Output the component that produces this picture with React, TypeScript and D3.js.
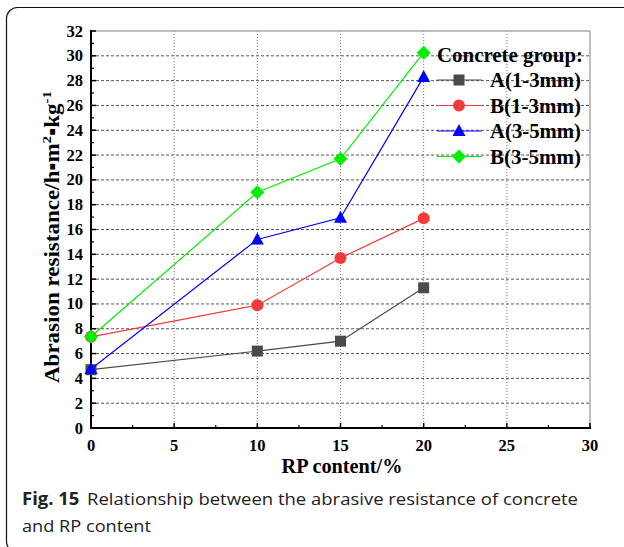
import React from "react";
import * as d3 from "d3";

const xValues = [0, 10, 15, 20];
const seriesNames = ["A(1-3mm)", "B(1-3mm)", "A(3-5mm)", "B(3-5mm)"];
const seriesA13 = [4.7, 6.2, 7.0, 11.3];
const seriesB13 = [7.35, 9.9, 13.7, 16.9];
const seriesA35 = [4.75, 15.2, 16.95, 28.3];
const seriesB35 = [7.35, 19.0, 21.7, 30.25];
const xTicks = [0, 5, 10, 15, 20, 25, 30];
const yTicks = [0, 2, 4, 6, 8, 10, 12, 14, 16, 18, 20, 22, 24, 26, 28, 30, 32];
const colors = ["#4a4a4a", "#f23c3c", "#0000ff", "#00ee00"];
const markers = ["square", "circle", "triangle", "diamond"];

const W = 624;
const H = 547;
const left = 91;
const right = 590;
const top = 31;
const bottom = 428;

const serif = "'Liberation Serif', 'Times New Roman', serif";
const sans = "'Open Sans', 'Noto Sans', sans-serif";

function Marker({ type, x, y, color }: { type: string; x: number; y: number; color: string }) {
  if (type === "square") return <rect x={x - 5.5} y={y - 5.5} width={11} height={11} fill={color} />;
  if (type === "circle") return <circle cx={x} cy={y} r={6} fill={color} />;
  if (type === "triangle")
    return <path d={`M${x},${y - 7} L${x + 6.5},${y + 5} L${x - 6.5},${y + 5} Z`} fill={color} />;
  return <path d={`M${x},${y - 7} L${x + 7},${y} L${x},${y + 7} L${x - 7},${y} Z`} fill={color} />;
}

export default function App() {
  const x = d3.scaleLinear().domain([0, 30]).range([left, right]);
  const y = d3.scaleLinear().domain([0, 32]).range([bottom, top]);
  const series = [seriesA13, seriesB13, seriesA35, seriesB35];
  const line = d3
    .line<[number, number]>()
    .x((d) => x(d[0]))
    .y((d) => y(d[1]));

  const yMinor = d3.range(1, 32, 2);
  const xMinor = d3.range(2.5, 30, 5);

  const legX = 437;
  const legY0 = 80;
  const legStep = 25.5;

  return (
    <svg
      width={W}
      height={H}
      style={{ position: "absolute", left: 0, top: 0, background: "#fff" }}
    >
      <rect x={0} y={0} width={W} height={H} fill="#fff" />
      <rect x={6.5} y={7.5} width={700} height={545} rx={11} fill="none" stroke="#111" strokeWidth={1.2} />

      {/* horizontal grid */}
      {yTicks
        .filter((t) => t > 0 && t < 32)
        .map((t) => (
          <line
            key={"hg" + t}
            x1={left}
            x2={right}
            y1={y(t)}
            y2={y(t)}
            stroke="#555"
            strokeWidth={1}
            strokeDasharray="3,2"
          />
        ))}
      {/* vertical grid */}
      {xTicks
        .filter((t) => t > 0 && t < 30)
        .map((t) => (
          <line
            key={"vg" + t}
            x1={x(t)}
            x2={x(t)}
            y1={top}
            y2={bottom}
            stroke="#777"
            strokeWidth={1}
            strokeDasharray="1,2"
          />
        ))}

      {/* frame */}
      <line x1={left} x2={right} y1={top} y2={top} stroke="#aaa" strokeWidth={1.5} />
      <line x1={right} x2={right} y1={top} y2={bottom} stroke="#aaa" strokeWidth={1.5} />

      {/* y ticks */}
      {yTicks.map((t) => (
        <line key={"yt" + t} x1={left} x2={left + 5} y1={y(t)} y2={y(t)} stroke="#000" strokeWidth={1.5} />
      ))}
      {yMinor.map((t) => (
        <line key={"ym" + t} x1={left} x2={left + 3} y1={y(t)} y2={y(t)} stroke="#000" strokeWidth={1.2} />
      ))}
      {/* x ticks */}
      {xTicks.map((t) => (
        <line key={"xt" + t} x1={x(t)} x2={x(t)} y1={bottom} y2={bottom - 5} stroke="#000" strokeWidth={1.5} />
      ))}
      {xMinor.map((t) => (
        <line key={"xm" + t} x1={x(t)} x2={x(t)} y1={bottom} y2={bottom - 3} stroke="#000" strokeWidth={1.2} />
      ))}

      {/* axes */}
      <line x1={left} x2={left} y1={top - 1} y2={bottom + 1} stroke="#000" strokeWidth={2} />
      <line x1={left - 1} x2={right + 1} y1={bottom} y2={bottom} stroke="#000" strokeWidth={2} />

      {/* tick labels */}
      {yTicks.map((t) => (
        <text
          key={"yl" + t}
          x={left - 8}
          y={y(t) + 5.5}
          textAnchor="end"
          fontFamily={serif}
          fontWeight="bold"
          fontSize={16.5}
        >
          {t}
        </text>
      ))}
      {xTicks.map((t) => (
        <text
          key={"xl" + t}
          x={x(t)}
          y={bottom + 23}
          textAnchor="middle"
          fontFamily={serif}
          fontWeight="bold"
          fontSize={16.5}
        >
          {t}
        </text>
      ))}

      {/* axis titles */}
      <text
        x={342}
        y={473}
        textAnchor="middle"
        fontFamily={serif}
        fontWeight="bold"
        fontSize={20}
        textLength={121}
        lengthAdjust="spacingAndGlyphs"
      >
        RP content/%
      </text>
      <text
        transform={`translate(59, 237) rotate(-90)`}
        textAnchor="middle"
        fontFamily={serif}
        fontWeight="bold"
        fontSize={20}
        textLength={292}
        lengthAdjust="spacingAndGlyphs"
      >
        Abrasion resistance/h▪m
        <tspan dy={-8} fontSize={13}>2</tspan>
        <tspan dy={8}>▪kg</tspan>
        <tspan dy={-8} fontSize={13}>-1</tspan>
      </text>

      {/* series */}
      {series.map((vals, i) => {
        const pts: [number, number][] = xValues.map((xv, j) => [xv, vals[j]]);
        return (
          <g key={"s" + i}>
            <path d={line(pts) || ""} fill="none" stroke={colors[i]} strokeWidth={1.2} />
            {pts.map((p, j) => (
              <Marker key={j} type={markers[i]} x={x(p[0])} y={y(p[1])} color={colors[i]} />
            ))}
          </g>
        );
      })}

      {/* legend */}
      <text
        x={legX}
        y={legY0 - legStep + 7}
        fontFamily={serif}
        fontWeight="bold"
        fontSize={20.5}
        textLength={146}
        lengthAdjust="spacingAndGlyphs"
      >
        Concrete group:
      </text>
      {seriesNames.map((name, i) => {
        const ly = legY0 + i * legStep;
        return (
          <g key={"lg" + i}>
            <line x1={legX} x2={legX + 45} y1={ly} y2={ly} stroke={colors[i]} strokeWidth={1.2} />
            <Marker type={markers[i]} x={legX + 22} y={ly} color={colors[i]} />
            <text
              x={legX + 53}
              y={ly + 7}
              fontFamily={serif}
              fontWeight="bold"
              fontSize={20.5}
              textLength={91}
              lengthAdjust="spacingAndGlyphs"
            >
              {name}
            </text>
          </g>
        );
      })}

      {/* caption */}
      <text
        x={22}
        y={505}
        fontFamily={sans}
        fontSize={17}
        fill="#222"
        textLength={556}
        lengthAdjust="spacingAndGlyphs"
      >
        <tspan fontWeight="bold">Fig. 15</tspan>
        <tspan dx={7}>Relationship between the abrasive resistance of concrete</tspan>
      </text>
      <text
        x={22}
        y={532}
        fontFamily={sans}
        fontSize={17}
        fill="#222"
        textLength={129}
        lengthAdjust="spacingAndGlyphs"
      >
        and RP content
      </text>
    </svg>
  );
}
